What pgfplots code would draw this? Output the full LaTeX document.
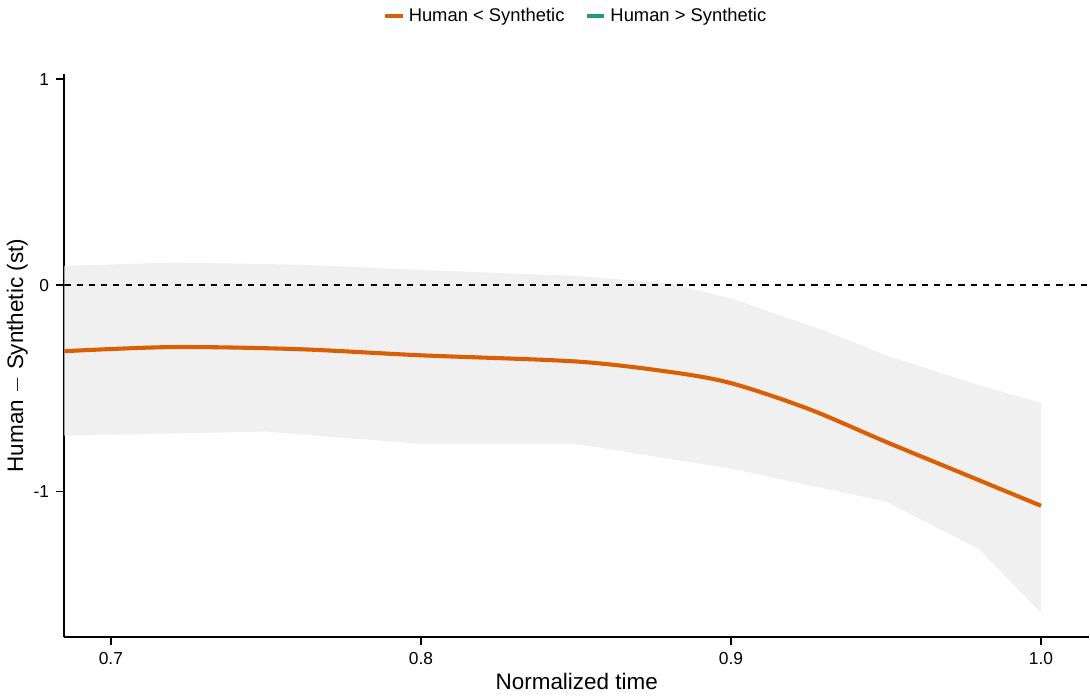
\documentclass[border=0pt]{standalone}
\usepackage{pgfplots}
\pgfplotsset{compat=1.18}
\usepackage{fontspec}
\setmainfont{Liberation Sans}
\usepgfplotslibrary{fillbetween}
\begin{document}
\begin{tikzpicture}
\begin{axis}[
  scale only axis, width=502pt, height=276pt,
  xmin=0.685, xmax=1.0155, ymin=-1.708, ymax=1.025,
  axis lines=left, axis line style={-, line width=0.9pt},
  xtick={0.7,0.8,0.9,1.0}, xticklabels={0.7,0.8,0.9,1.0},
  ytick={-1,0,1}, yticklabels={-1,0,1},
  tick align=outside, tick style={black, line width=0.8pt}, major tick length=4pt,
  ticklabel style={font=\fontsize{8.5}{10}\selectfont},
  /pgf/number format/assume math mode=true,
  xlabel={Normalized time}, ylabel={Human $-$ Synthetic (st)},
  label style={font=\fontsize{11}{13}\selectfont},
  xlabel style={yshift=3pt}, ylabel style={yshift=-4pt},
  legend columns=2,
  legend style={at={(0.5,1.0)}, yshift=20pt, anchor=south, draw=none,
    font=\fontsize{9}{11}\selectfont, /tikz/every even column/.append style={column sep=8pt}},
  legend image code/.code={\draw[#1, line width=2pt] (0cm,0cm) -- (0.3cm,0cm);},
]
\addplot[name path=up, draw=none, forget plot] coordinates {
(0.685,0.094)(0.72,0.11)(0.76,0.10)(0.8,0.074)(0.85,0.045)(0.88,0.01)(0.9,-0.064)(0.93,-0.22)(0.95,-0.34)(0.98,-0.485)(1.0,-0.57)};
\addplot[name path=lo, draw=none, forget plot] coordinates {
(0.685,-0.73)(0.75,-0.71)(0.8,-0.77)(0.85,-0.77)(0.9,-0.89)(0.95,-1.05)(0.98,-1.28)(1.0,-1.59)};
\addplot[fill=black!6, draw=none, forget plot] fill between[of=up and lo];
\addplot[black, dashed, line width=0.8pt, forget plot] coordinates {(0.685,0)(1.0155,0)};
\addplot[color={rgb,255:red,217;green,95;blue,2}, line width=2pt, smooth] coordinates {
(0.685,-0.32)(0.72,-0.30)(0.76,-0.31)(0.8,-0.34)(0.85,-0.37)(0.88,-0.42)(0.9,-0.475)(0.925,-0.60)(0.95,-0.76)(0.975,-0.915)(1.0,-1.07)};
\addlegendentry{Human < Synthetic}
\addlegendimage{color={rgb,255:red,27;green,158;blue,119}}
\addlegendentry{Human > Synthetic}
\end{axis}
\end{tikzpicture}
\end{document}
